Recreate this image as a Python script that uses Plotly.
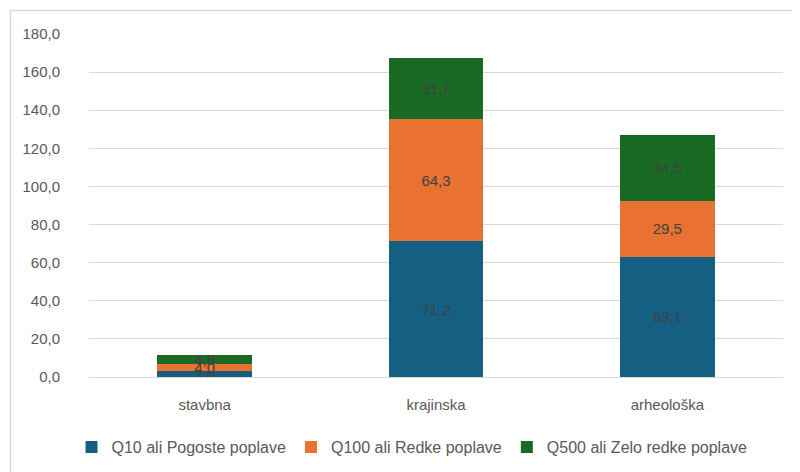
import plotly.graph_objects as go

categories = ["stavbna", "krajinska", "arheološka"]
series_names = ["Q10 ali Pogoste poplave", "Q100 ali Redke poplave", "Q500 ali Zelo redke poplave"]
q10 = [3.0, 71.2, 63.1]
q100 = [4.0, 64.3, 29.5]
q500 = [4.8, 31.7, 34.5]
colors = ["#156082", "#E97132", "#196B24"]
y_ticks = [0, 20, 40, 60, 80, 100, 120, 140, 160, 180]

font_family = "Liberation Sans"
fig = go.Figure()
for name, vals, col in zip(series_names, [q10, q100, q500], colors):
    fig.add_trace(go.Bar(
        x=categories, y=vals, name=name, marker_color=col,
        marker_line_width=0,
        texttemplate="%{y:.1f}", textposition="inside", insidetextanchor="middle",
        textfont=dict(color="#404040", size=15, family=font_family),
        constraintext="none",
    ))

# page has 8px body margin: figure coords = page coords - 8
OFF = 8
W, H = 800 - OFF, 472 - OFF
L = 89 - OFF
T = 34 - OFF
R = W - (783 - OFF)
B = H - (377 - OFF)
pw = W - L - R
ph = H - T - B

fig.update_layout(
    width=W, height=H,
    barmode="stack", bargap=0.59,
    separators=",.",
    plot_bgcolor="white", paper_bgcolor="white",
    margin=dict(l=L, r=R, t=T, b=B, pad=0, autoexpand=False),
    font=dict(family=font_family, color="#595959", size=14),
    xaxis=dict(showgrid=False, showline=False, ticks="", ticklabelstandoff=17,
               tickfont=dict(size=15, color="#595959")),
    yaxis=dict(range=[0, 180], tickvals=y_ticks, tickformat=".1f",
               showgrid=True, gridcolor="#D9D9D9", gridwidth=1.3,
               zeroline=True, zerolinecolor="#D9D9D9", zerolinewidth=1.3,
               showline=False, ticks="", ticklabelstandoff=28,
               tickfont=dict(size=15, color="#595959")),
    legend=dict(orientation="h", x=(412 - 89) / pw, xanchor="center",
                y=-(447 - 377) / ph, yanchor="middle",
                font=dict(size=16, color="#595959"), traceorder="normal",
                itemwidth=30),
    showlegend=True,
)

fig.add_shape(type="rect", xref="paper", yref="paper",
              x0=(10.5 - 89) / pw, x1=(820 - 89) / pw,
              y0=-(500 - 377) / ph, y1=1 + (34 - 10.5) / ph,
              line=dict(color="#D9D9D9", width=1.3), fillcolor="rgba(0,0,0,0)", layer="below")

fig.write_html("out.html")
